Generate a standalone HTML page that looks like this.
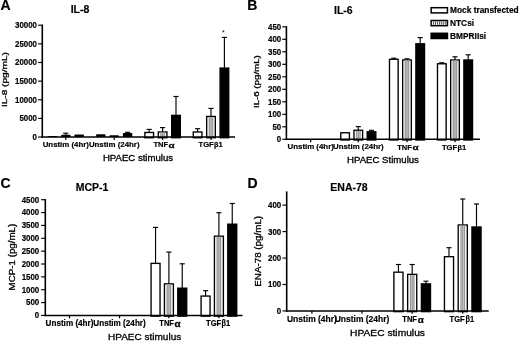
<!DOCTYPE html>
<html><head><meta charset="utf-8"><title>Figure</title>
<style>html,body{margin:0;padding:0;background:#fff;}svg{display:block;will-change:transform;}text{font-family:'Liberation Sans', sans-serif;fill:#000;}</style>
</head><body>
<svg width="520" height="342" viewBox="0 0 520 342">
<defs><filter id="bl" x="0" y="0" width="520" height="342" filterUnits="userSpaceOnUse"><feGaussianBlur stdDeviation="0.32"/></filter></defs>
<rect width="520" height="342" fill="#fff"/>
<g filter="url(#bl)">
<text transform="translate(0.6 9.9)" font-size="14" font-weight="bold" text-anchor="start"  stroke="#000" stroke-width="0.18">A</text>
<text transform="translate(80 12.5)" font-size="10.5" font-weight="bold" text-anchor="middle"  stroke="#000" stroke-width="0.18">IL-8</text>
<rect x="47.7" y="135.9" width="9.4" height="1.15" rx="0.8" fill="#000"/>
<line x1="65.8" y1="133.2" x2="65.8" y2="135.3" stroke="#000" stroke-width="1.15"/>
<line x1="63.25" y1="133.2" x2="68.35" y2="133.2" stroke="#000" stroke-width="1.15"/>
<rect x="61.1" y="134.8" width="9.4" height="2.25" rx="0.8" fill="#000"/>
<rect x="74.5" y="134.5" width="9.4" height="2.55" rx="0.8" fill="#000"/>
<rect x="96.1" y="134.2" width="9.4" height="2.85" rx="0.8" fill="#000"/>
<rect x="109.5" y="135.2" width="9.4" height="1.85" rx="0.8" fill="#000"/>
<line x1="127.6" y1="132.3" x2="127.6" y2="133.5" stroke="#000" stroke-width="1.15"/>
<line x1="125.05" y1="132.3" x2="130.15" y2="132.3" stroke="#000" stroke-width="1.15"/>
<rect x="122.9" y="133" width="9.4" height="4.05" rx="0.8" fill="#000"/>
<line x1="149.2" y1="129.4" x2="149.2" y2="132.3" stroke="#000" stroke-width="1.15"/>
<line x1="146.65" y1="129.4" x2="151.75" y2="129.4" stroke="#000" stroke-width="1.15"/>
<rect x="144.88" y="132.48" width="8.65" height="5.25" fill="#fff" stroke="#000" stroke-width="1.35"/>
<line x1="162.6" y1="127.6" x2="162.6" y2="131.8" stroke="#000" stroke-width="1.15"/>
<line x1="160.05" y1="127.6" x2="165.15" y2="127.6" stroke="#000" stroke-width="1.15"/>
<rect x="158.28" y="131.98" width="8.65" height="5.75" fill="#fff" stroke="#000" stroke-width="1.35"/>
<rect x="160.1" y="132.65" width="5" height="4.4" fill="#cfcfcf"/>
<rect x="160.45" y="132.65" width="0.9" height="4.4" fill="#8e8e8e"/>
<rect x="162.15" y="132.65" width="0.9" height="4.4" fill="#8e8e8e"/>
<rect x="163.85" y="132.65" width="0.9" height="4.4" fill="#8e8e8e"/>
<line x1="176" y1="96.5" x2="176" y2="115.2" stroke="#000" stroke-width="1.15"/>
<line x1="173.45" y1="96.5" x2="178.55" y2="96.5" stroke="#000" stroke-width="1.15"/>
<rect x="171.68" y="115.38" width="8.65" height="22.35" fill="#000" stroke="#000" stroke-width="1.35"/>
<line x1="197.6" y1="128.7" x2="197.6" y2="131.8" stroke="#000" stroke-width="1.15"/>
<line x1="195.05" y1="128.7" x2="200.15" y2="128.7" stroke="#000" stroke-width="1.15"/>
<rect x="193.28" y="131.98" width="8.65" height="5.75" fill="#fff" stroke="#000" stroke-width="1.35"/>
<line x1="211" y1="108.4" x2="211" y2="116.3" stroke="#000" stroke-width="1.15"/>
<line x1="208.45" y1="108.4" x2="213.55" y2="108.4" stroke="#000" stroke-width="1.15"/>
<rect x="206.68" y="116.47" width="8.65" height="21.25" fill="#fff" stroke="#000" stroke-width="1.35"/>
<rect x="208.5" y="117.15" width="5" height="19.9" fill="#cfcfcf"/>
<rect x="208.85" y="117.15" width="0.9" height="19.9" fill="#8e8e8e"/>
<rect x="210.55" y="117.15" width="0.9" height="19.9" fill="#8e8e8e"/>
<rect x="212.25" y="117.15" width="0.9" height="19.9" fill="#8e8e8e"/>
<line x1="224.4" y1="37.4" x2="224.4" y2="67.9" stroke="#000" stroke-width="1.15"/>
<line x1="221.85" y1="37.4" x2="226.95" y2="37.4" stroke="#000" stroke-width="1.15"/>
<rect x="220.08" y="68.08" width="8.65" height="69.65" fill="#000" stroke="#000" stroke-width="1.35"/>
<line x1="42.3" y1="24.6" x2="42.3" y2="137.8" stroke="#000" stroke-width="1.6"/>
<line x1="41.5" y1="137.05" x2="235" y2="137.05" stroke="#000" stroke-width="1.4"/>
<line x1="38.1" y1="137.05" x2="42.3" y2="137.05" stroke="#000" stroke-width="1.15"/>
<text transform="translate(37 139.95) scale(0.93 1)" font-size="8.5" font-weight="bold" text-anchor="end"  stroke="#000" stroke-width="0.18">0</text>
<line x1="38.1" y1="118.41" x2="42.3" y2="118.41" stroke="#000" stroke-width="1.15"/>
<text transform="translate(37 121.31) scale(0.93 1)" font-size="8.5" font-weight="bold" text-anchor="end"  stroke="#000" stroke-width="0.18">5000</text>
<line x1="38.1" y1="99.77" x2="42.3" y2="99.77" stroke="#000" stroke-width="1.15"/>
<text transform="translate(37 102.67) scale(0.93 1)" font-size="8.5" font-weight="bold" text-anchor="end"  stroke="#000" stroke-width="0.18">10000</text>
<line x1="38.1" y1="81.12" x2="42.3" y2="81.12" stroke="#000" stroke-width="1.15"/>
<text transform="translate(37 84.03) scale(0.93 1)" font-size="8.5" font-weight="bold" text-anchor="end"  stroke="#000" stroke-width="0.18">15000</text>
<line x1="38.1" y1="62.48" x2="42.3" y2="62.48" stroke="#000" stroke-width="1.15"/>
<text transform="translate(37 65.38) scale(0.93 1)" font-size="8.5" font-weight="bold" text-anchor="end"  stroke="#000" stroke-width="0.18">20000</text>
<line x1="38.1" y1="43.84" x2="42.3" y2="43.84" stroke="#000" stroke-width="1.15"/>
<text transform="translate(37 46.74) scale(0.93 1)" font-size="8.5" font-weight="bold" text-anchor="end"  stroke="#000" stroke-width="0.18">25000</text>
<line x1="38.1" y1="25.2" x2="42.3" y2="25.2" stroke="#000" stroke-width="1.15"/>
<text transform="translate(37 28.1) scale(0.93 1)" font-size="8.5" font-weight="bold" text-anchor="end"  stroke="#000" stroke-width="0.18">30000</text>
<text transform="translate(7.3 79.6) rotate(-90) scale(1.33 1)" font-size="7.6" font-weight="normal" text-anchor="middle" stroke="#000" stroke-width="0.3">IL-8 (pg/mL)</text>
<line x1="65.8" y1="137.05" x2="65.8" y2="139.95" stroke="#000" stroke-width="1.2"/>
<text transform="translate(65.8 147.3) scale(1.035 1)" font-size="7.6" font-weight="bold" text-anchor="middle"  stroke="#000" stroke-width="0.18">Unstim (4hr)</text>
<line x1="114.2" y1="137.05" x2="114.2" y2="139.95" stroke="#000" stroke-width="1.2"/>
<text transform="translate(114.2 147.3) scale(1.035 1)" font-size="7.6" font-weight="bold" text-anchor="middle"  stroke="#000" stroke-width="0.18">Unstim (24hr)</text>
<line x1="162.6" y1="137.05" x2="162.6" y2="139.95" stroke="#000" stroke-width="1.2"/>
<text transform="translate(153.4 147.3) scale(0.99 1)" font-size="7.6" font-weight="bold" text-anchor="start"  stroke="#000" stroke-width="0.18">TNF</text>
<text transform="translate(168.6 147.9) scale(1.3 1)" font-size="7.6" font-weight="bold" text-anchor="start" stroke="#000" stroke-width="0.25">&#945;</text>
<line x1="211" y1="137.05" x2="211" y2="139.95" stroke="#000" stroke-width="1.2"/>
<text transform="translate(198.5 147.3)" font-size="7.6" font-weight="bold" text-anchor="start"  stroke="#000" stroke-width="0.18">TGF</text>
<text transform="translate(214.1 147.3) scale(0.92 1)" font-size="7.8999999999999995" font-weight="bold" text-anchor="start" stroke="#000" stroke-width="0.2">&#946;</text>
<text transform="translate(218.6 147.3)" font-size="7.6" font-weight="bold" text-anchor="start"  stroke="#000" stroke-width="0.18">1</text>
<text transform="translate(138 160.6) scale(1.045 1)" font-size="9.2" font-weight="normal" text-anchor="middle" stroke="#000" stroke-width="0.32">HPAEC stimulus</text>
<text transform="translate(223.4 35.2)" font-size="7" font-weight="normal" text-anchor="middle" >*</text>
<text transform="translate(247.3 10.3)" font-size="14" font-weight="bold" text-anchor="start"  stroke="#000" stroke-width="0.18">B</text>
<text transform="translate(343.3 13.7)" font-size="10.5" font-weight="bold" text-anchor="middle"  stroke="#000" stroke-width="0.18">IL-6</text>
<rect x="340.78" y="132.78" width="8.65" height="7.2" fill="#fff" stroke="#000" stroke-width="1.35"/>
<line x1="358.3" y1="126.6" x2="358.3" y2="130.1" stroke="#000" stroke-width="1.15"/>
<line x1="355.75" y1="126.6" x2="360.85" y2="126.6" stroke="#000" stroke-width="1.15"/>
<rect x="353.98" y="130.28" width="8.65" height="9.7" fill="#fff" stroke="#000" stroke-width="1.35"/>
<rect x="355.8" y="130.95" width="5" height="8.35" fill="#cfcfcf"/>
<rect x="356.15" y="130.95" width="0.9" height="8.35" fill="#8e8e8e"/>
<rect x="357.85" y="130.95" width="0.9" height="8.35" fill="#8e8e8e"/>
<rect x="359.55" y="130.95" width="0.9" height="8.35" fill="#8e8e8e"/>
<line x1="371.5" y1="130.3" x2="371.5" y2="131.6" stroke="#000" stroke-width="1.15"/>
<line x1="368.95" y1="130.3" x2="374.05" y2="130.3" stroke="#000" stroke-width="1.15"/>
<rect x="367.18" y="131.78" width="8.65" height="8.2" fill="#000" stroke="#000" stroke-width="1.35"/>
<line x1="393.8" y1="58.2" x2="393.8" y2="59.1" stroke="#000" stroke-width="1.15"/>
<line x1="391.25" y1="58.2" x2="396.35" y2="58.2" stroke="#000" stroke-width="1.15"/>
<rect x="389.48" y="59.27" width="8.65" height="80.7" fill="#fff" stroke="#000" stroke-width="1.35"/>
<line x1="407" y1="58.8" x2="407" y2="59.8" stroke="#000" stroke-width="1.15"/>
<line x1="404.45" y1="58.8" x2="409.55" y2="58.8" stroke="#000" stroke-width="1.15"/>
<rect x="402.68" y="59.97" width="8.65" height="80" fill="#fff" stroke="#000" stroke-width="1.35"/>
<rect x="404.5" y="60.65" width="5" height="78.65" fill="#cfcfcf"/>
<rect x="404.85" y="60.65" width="0.9" height="78.65" fill="#8e8e8e"/>
<rect x="406.55" y="60.65" width="0.9" height="78.65" fill="#8e8e8e"/>
<rect x="408.25" y="60.65" width="0.9" height="78.65" fill="#8e8e8e"/>
<line x1="420.2" y1="37.6" x2="420.2" y2="43.6" stroke="#000" stroke-width="1.15"/>
<line x1="417.65" y1="37.6" x2="422.75" y2="37.6" stroke="#000" stroke-width="1.15"/>
<rect x="415.88" y="43.77" width="8.65" height="96.2" fill="#000" stroke="#000" stroke-width="1.35"/>
<line x1="441.8" y1="62.8" x2="441.8" y2="63.6" stroke="#000" stroke-width="1.15"/>
<line x1="439.25" y1="62.8" x2="444.35" y2="62.8" stroke="#000" stroke-width="1.15"/>
<rect x="437.48" y="63.77" width="8.65" height="76.2" fill="#fff" stroke="#000" stroke-width="1.35"/>
<line x1="455" y1="56.8" x2="455" y2="59.8" stroke="#000" stroke-width="1.15"/>
<line x1="452.45" y1="56.8" x2="457.55" y2="56.8" stroke="#000" stroke-width="1.15"/>
<rect x="450.68" y="59.97" width="8.65" height="80" fill="#fff" stroke="#000" stroke-width="1.35"/>
<rect x="452.5" y="60.65" width="5" height="78.65" fill="#cfcfcf"/>
<rect x="452.85" y="60.65" width="0.9" height="78.65" fill="#8e8e8e"/>
<rect x="454.55" y="60.65" width="0.9" height="78.65" fill="#8e8e8e"/>
<rect x="456.25" y="60.65" width="0.9" height="78.65" fill="#8e8e8e"/>
<line x1="468.2" y1="54.8" x2="468.2" y2="59.8" stroke="#000" stroke-width="1.15"/>
<line x1="465.65" y1="54.8" x2="470.75" y2="54.8" stroke="#000" stroke-width="1.15"/>
<rect x="463.88" y="59.97" width="8.65" height="80" fill="#000" stroke="#000" stroke-width="1.35"/>
<line x1="286.4" y1="26.2" x2="286.4" y2="140.05" stroke="#000" stroke-width="1.6"/>
<line x1="285.6" y1="139.3" x2="480" y2="139.3" stroke="#000" stroke-width="1.4"/>
<line x1="282.2" y1="139.3" x2="286.4" y2="139.3" stroke="#000" stroke-width="1.15"/>
<text transform="translate(281.2 142.2) scale(0.93 1)" font-size="8.5" font-weight="bold" text-anchor="end"  stroke="#000" stroke-width="0.18">0</text>
<line x1="282.2" y1="126.8" x2="286.4" y2="126.8" stroke="#000" stroke-width="1.15"/>
<text transform="translate(281.2 129.7) scale(0.93 1)" font-size="8.5" font-weight="bold" text-anchor="end"  stroke="#000" stroke-width="0.18">50</text>
<line x1="282.2" y1="114.3" x2="286.4" y2="114.3" stroke="#000" stroke-width="1.15"/>
<text transform="translate(281.2 117.2) scale(0.93 1)" font-size="8.5" font-weight="bold" text-anchor="end"  stroke="#000" stroke-width="0.18">100</text>
<line x1="282.2" y1="101.8" x2="286.4" y2="101.8" stroke="#000" stroke-width="1.15"/>
<text transform="translate(281.2 104.7) scale(0.93 1)" font-size="8.5" font-weight="bold" text-anchor="end"  stroke="#000" stroke-width="0.18">150</text>
<line x1="282.2" y1="89.3" x2="286.4" y2="89.3" stroke="#000" stroke-width="1.15"/>
<text transform="translate(281.2 92.2) scale(0.93 1)" font-size="8.5" font-weight="bold" text-anchor="end"  stroke="#000" stroke-width="0.18">200</text>
<line x1="282.2" y1="76.8" x2="286.4" y2="76.8" stroke="#000" stroke-width="1.15"/>
<text transform="translate(281.2 79.7) scale(0.93 1)" font-size="8.5" font-weight="bold" text-anchor="end"  stroke="#000" stroke-width="0.18">250</text>
<line x1="282.2" y1="64.3" x2="286.4" y2="64.3" stroke="#000" stroke-width="1.15"/>
<text transform="translate(281.2 67.2) scale(0.93 1)" font-size="8.5" font-weight="bold" text-anchor="end"  stroke="#000" stroke-width="0.18">300</text>
<line x1="282.2" y1="51.8" x2="286.4" y2="51.8" stroke="#000" stroke-width="1.15"/>
<text transform="translate(281.2 54.7) scale(0.93 1)" font-size="8.5" font-weight="bold" text-anchor="end"  stroke="#000" stroke-width="0.18">350</text>
<line x1="282.2" y1="39.3" x2="286.4" y2="39.3" stroke="#000" stroke-width="1.15"/>
<text transform="translate(281.2 42.2) scale(0.93 1)" font-size="8.5" font-weight="bold" text-anchor="end"  stroke="#000" stroke-width="0.18">400</text>
<line x1="282.2" y1="26.8" x2="286.4" y2="26.8" stroke="#000" stroke-width="1.15"/>
<text transform="translate(281.2 29.7) scale(0.93 1)" font-size="8.5" font-weight="bold" text-anchor="end"  stroke="#000" stroke-width="0.18">450</text>
<text transform="translate(259.2 81.6) rotate(-90) scale(1.28 1)" font-size="7.6" font-weight="normal" text-anchor="middle" stroke="#000" stroke-width="0.3">IL-6 (pg/mL)</text>
<line x1="310.7" y1="139.3" x2="310.7" y2="142.2" stroke="#000" stroke-width="1.2"/>
<text transform="translate(310.7 149.1) scale(1.035 1)" font-size="7.6" font-weight="bold" text-anchor="middle"  stroke="#000" stroke-width="0.18">Unstim (4hr)</text>
<line x1="358.3" y1="139.3" x2="358.3" y2="142.2" stroke="#000" stroke-width="1.2"/>
<text transform="translate(358.3 149.1) scale(1.035 1)" font-size="7.6" font-weight="bold" text-anchor="middle"  stroke="#000" stroke-width="0.18">Unstim (24hr)</text>
<line x1="407" y1="139.3" x2="407" y2="142.2" stroke="#000" stroke-width="1.2"/>
<text transform="translate(397.2 149.6) scale(0.99 1)" font-size="7.6" font-weight="bold" text-anchor="start"  stroke="#000" stroke-width="0.18">TNF</text>
<text transform="translate(412.4 150.2) scale(1.3 1)" font-size="7.6" font-weight="bold" text-anchor="start" stroke="#000" stroke-width="0.25">&#945;</text>
<line x1="455" y1="139.3" x2="455" y2="142.2" stroke="#000" stroke-width="1.2"/>
<text transform="translate(441.9 149.6)" font-size="7.6" font-weight="bold" text-anchor="start"  stroke="#000" stroke-width="0.18">TGF</text>
<text transform="translate(457.5 149.6) scale(0.92 1)" font-size="7.8999999999999995" font-weight="bold" text-anchor="start" stroke="#000" stroke-width="0.2">&#946;</text>
<text transform="translate(462 149.6)" font-size="7.6" font-weight="bold" text-anchor="start"  stroke="#000" stroke-width="0.18">1</text>
<text transform="translate(383 163.1) scale(1.045 1)" font-size="9.2" font-weight="normal" text-anchor="middle" stroke="#000" stroke-width="0.32">HPAEC Stimulus</text>
<rect x="431.15" y="7.7" width="16.3" height="5.2" fill="#fff" stroke="#000" stroke-width="1.5"/>
<text transform="translate(450 13.2)" font-size="8.35" font-weight="bold" text-anchor="start"  stroke="#000" stroke-width="0.18">Mock transfected</text>
<rect x="431.15" y="20.5" width="16.3" height="5.2" fill="#fff" stroke="#000" stroke-width="1.5"/>
<rect x="433" y="21.45" width="1.0" height="3.3" fill="#444"/>
<rect x="435.05" y="21.45" width="1.0" height="3.3" fill="#444"/>
<rect x="437.1" y="21.45" width="1.0" height="3.3" fill="#444"/>
<rect x="439.15" y="21.45" width="1.0" height="3.3" fill="#444"/>
<rect x="441.2" y="21.45" width="1.0" height="3.3" fill="#444"/>
<rect x="443.25" y="21.45" width="1.0" height="3.3" fill="#444"/>
<rect x="445.3" y="21.45" width="1.0" height="3.3" fill="#444"/>
<text transform="translate(450 26)" font-size="8.35" font-weight="bold" text-anchor="start"  stroke="#000" stroke-width="0.18">NTCsi</text>
<rect x="431.15" y="33.3" width="16.3" height="5.2" fill="#000" stroke="#000" stroke-width="1.5"/>
<text transform="translate(450 38.9)" font-size="8.35" font-weight="bold" text-anchor="start"  stroke="#000" stroke-width="0.18">BMPRIIsi</text>
<text transform="translate(0.5 188)" font-size="14" font-weight="bold" text-anchor="start"  stroke="#000" stroke-width="0.18">C</text>
<text transform="translate(92 190.5)" font-size="10.5" font-weight="bold" text-anchor="middle"  stroke="#000" stroke-width="0.18">MCP-1</text>
<line x1="155.55" y1="227.4" x2="155.55" y2="263.2" stroke="#000" stroke-width="1.15"/>
<line x1="153" y1="227.4" x2="158.1" y2="227.4" stroke="#000" stroke-width="1.15"/>
<rect x="151.08" y="263.38" width="8.95" height="52.75" fill="#fff" stroke="#000" stroke-width="1.35"/>
<line x1="168.9" y1="252.1" x2="168.9" y2="283.7" stroke="#000" stroke-width="1.15"/>
<line x1="166.35" y1="252.1" x2="171.45" y2="252.1" stroke="#000" stroke-width="1.15"/>
<rect x="164.43" y="283.88" width="8.95" height="32.25" fill="#fff" stroke="#000" stroke-width="1.35"/>
<rect x="166.4" y="284.55" width="5" height="30.9" fill="#cfcfcf"/>
<rect x="166.75" y="284.55" width="0.9" height="30.9" fill="#8e8e8e"/>
<rect x="168.45" y="284.55" width="0.9" height="30.9" fill="#8e8e8e"/>
<rect x="170.15" y="284.55" width="0.9" height="30.9" fill="#8e8e8e"/>
<line x1="182.25" y1="263.8" x2="182.25" y2="288" stroke="#000" stroke-width="1.15"/>
<line x1="179.7" y1="263.8" x2="184.8" y2="263.8" stroke="#000" stroke-width="1.15"/>
<rect x="177.78" y="288.18" width="8.95" height="27.95" fill="#000" stroke="#000" stroke-width="1.35"/>
<line x1="205.55" y1="290.7" x2="205.55" y2="295.9" stroke="#000" stroke-width="1.15"/>
<line x1="203" y1="290.7" x2="208.1" y2="290.7" stroke="#000" stroke-width="1.15"/>
<rect x="201.08" y="296.07" width="8.95" height="20.05" fill="#fff" stroke="#000" stroke-width="1.35"/>
<line x1="218.9" y1="212.7" x2="218.9" y2="236" stroke="#000" stroke-width="1.15"/>
<line x1="216.35" y1="212.7" x2="221.45" y2="212.7" stroke="#000" stroke-width="1.15"/>
<rect x="214.43" y="236.18" width="8.95" height="79.95" fill="#fff" stroke="#000" stroke-width="1.35"/>
<rect x="216.4" y="236.85" width="5" height="78.6" fill="#cfcfcf"/>
<rect x="216.75" y="236.85" width="0.9" height="78.6" fill="#8e8e8e"/>
<rect x="218.45" y="236.85" width="0.9" height="78.6" fill="#8e8e8e"/>
<rect x="220.15" y="236.85" width="0.9" height="78.6" fill="#8e8e8e"/>
<line x1="232.25" y1="203.5" x2="232.25" y2="224" stroke="#000" stroke-width="1.15"/>
<line x1="229.7" y1="203.5" x2="234.8" y2="203.5" stroke="#000" stroke-width="1.15"/>
<rect x="227.78" y="224.18" width="8.95" height="91.95" fill="#000" stroke="#000" stroke-width="1.35"/>
<line x1="45.3" y1="199.1" x2="45.3" y2="316.2" stroke="#000" stroke-width="1.6"/>
<line x1="44.5" y1="315.45" x2="242.5" y2="315.45" stroke="#000" stroke-width="1.4"/>
<line x1="41.1" y1="315.45" x2="45.3" y2="315.45" stroke="#000" stroke-width="1.15"/>
<text transform="translate(39.2 318.35) scale(0.93 1)" font-size="8.5" font-weight="bold" text-anchor="end"  stroke="#000" stroke-width="0.18">0</text>
<line x1="41.1" y1="302.59" x2="45.3" y2="302.59" stroke="#000" stroke-width="1.15"/>
<text transform="translate(39.2 305.49) scale(0.93 1)" font-size="8.5" font-weight="bold" text-anchor="end"  stroke="#000" stroke-width="0.18">500</text>
<line x1="41.1" y1="289.73" x2="45.3" y2="289.73" stroke="#000" stroke-width="1.15"/>
<text transform="translate(39.2 292.63) scale(0.93 1)" font-size="8.5" font-weight="bold" text-anchor="end"  stroke="#000" stroke-width="0.18">1000</text>
<line x1="41.1" y1="276.87" x2="45.3" y2="276.87" stroke="#000" stroke-width="1.15"/>
<text transform="translate(39.2 279.77) scale(0.93 1)" font-size="8.5" font-weight="bold" text-anchor="end"  stroke="#000" stroke-width="0.18">1500</text>
<line x1="41.1" y1="264.01" x2="45.3" y2="264.01" stroke="#000" stroke-width="1.15"/>
<text transform="translate(39.2 266.91) scale(0.93 1)" font-size="8.5" font-weight="bold" text-anchor="end"  stroke="#000" stroke-width="0.18">2000</text>
<line x1="41.1" y1="251.15" x2="45.3" y2="251.15" stroke="#000" stroke-width="1.15"/>
<text transform="translate(39.2 254.05) scale(0.93 1)" font-size="8.5" font-weight="bold" text-anchor="end"  stroke="#000" stroke-width="0.18">2500</text>
<line x1="41.1" y1="238.29" x2="45.3" y2="238.29" stroke="#000" stroke-width="1.15"/>
<text transform="translate(39.2 241.19) scale(0.93 1)" font-size="8.5" font-weight="bold" text-anchor="end"  stroke="#000" stroke-width="0.18">3000</text>
<line x1="41.1" y1="225.43" x2="45.3" y2="225.43" stroke="#000" stroke-width="1.15"/>
<text transform="translate(39.2 228.33) scale(0.93 1)" font-size="8.5" font-weight="bold" text-anchor="end"  stroke="#000" stroke-width="0.18">3500</text>
<line x1="41.1" y1="212.57" x2="45.3" y2="212.57" stroke="#000" stroke-width="1.15"/>
<text transform="translate(39.2 215.47) scale(0.93 1)" font-size="8.5" font-weight="bold" text-anchor="end"  stroke="#000" stroke-width="0.18">4000</text>
<line x1="41.1" y1="199.71" x2="45.3" y2="199.71" stroke="#000" stroke-width="1.15"/>
<text transform="translate(39.2 202.61) scale(0.93 1)" font-size="8.5" font-weight="bold" text-anchor="end"  stroke="#000" stroke-width="0.18">4500</text>
<text transform="translate(15 257.1) rotate(-90) scale(1.19 1)" font-size="8.2" font-weight="normal" text-anchor="middle" stroke="#000" stroke-width="0.3">MCP-1 (pg/mL)</text>
<line x1="69.5" y1="315.45" x2="69.5" y2="318.35" stroke="#000" stroke-width="1.2"/>
<text transform="translate(69.5 326.1) scale(0.995 1)" font-size="8.2" font-weight="bold" text-anchor="middle"  stroke="#000" stroke-width="0.18">Unstim (4hr)</text>
<line x1="119.5" y1="315.45" x2="119.5" y2="318.35" stroke="#000" stroke-width="1.2"/>
<text transform="translate(119.5 326.1) scale(0.995 1)" font-size="8.2" font-weight="bold" text-anchor="middle"  stroke="#000" stroke-width="0.18">Unstim (24hr)</text>
<line x1="168.9" y1="315.45" x2="168.9" y2="318.35" stroke="#000" stroke-width="1.2"/>
<text transform="translate(159.3 326.1) scale(0.9175609756097561 1)" font-size="8.2" font-weight="bold" text-anchor="start"  stroke="#000" stroke-width="0.18">TNF</text>
<text transform="translate(174.5 326.7) scale(1.204878048780488 1)" font-size="8.2" font-weight="bold" text-anchor="start" stroke="#000" stroke-width="0.25">&#945;</text>
<line x1="218.9" y1="315.45" x2="218.9" y2="318.35" stroke="#000" stroke-width="1.2"/>
<text transform="translate(206 326.1) scale(0.926829268292683 1)" font-size="8.2" font-weight="bold" text-anchor="start"  stroke="#000" stroke-width="0.18">TGF</text>
<text transform="translate(221.6 326.1) scale(0.8526829268292684 1)" font-size="8.5" font-weight="bold" text-anchor="start" stroke="#000" stroke-width="0.2">&#946;</text>
<text transform="translate(226.1 326.1) scale(0.926829268292683 1)" font-size="8.2" font-weight="bold" text-anchor="start"  stroke="#000" stroke-width="0.18">1</text>
<text transform="translate(144.6 340) scale(1.045 1)" font-size="9.6" font-weight="normal" text-anchor="middle" stroke="#000" stroke-width="0.32">HPAEC stimulus</text>
<text transform="translate(247.5 188)" font-size="14" font-weight="bold" text-anchor="start"  stroke="#000" stroke-width="0.18">D</text>
<text transform="translate(349 190.5)" font-size="10.5" font-weight="bold" text-anchor="middle"  stroke="#000" stroke-width="0.18">ENA-78</text>
<line x1="398.45" y1="264.5" x2="398.45" y2="272" stroke="#000" stroke-width="1.15"/>
<line x1="395.9" y1="264.5" x2="401" y2="264.5" stroke="#000" stroke-width="1.15"/>
<rect x="393.9" y="272.18" width="9.1" height="39.45" fill="#fff" stroke="#000" stroke-width="1.35"/>
<line x1="412.2" y1="264.5" x2="412.2" y2="274.2" stroke="#000" stroke-width="1.15"/>
<line x1="409.65" y1="264.5" x2="414.75" y2="264.5" stroke="#000" stroke-width="1.15"/>
<rect x="407.65" y="274.38" width="9.1" height="37.25" fill="#fff" stroke="#000" stroke-width="1.35"/>
<rect x="409.7" y="275.05" width="5" height="35.9" fill="#cfcfcf"/>
<rect x="410.05" y="275.05" width="0.9" height="35.9" fill="#8e8e8e"/>
<rect x="411.75" y="275.05" width="0.9" height="35.9" fill="#8e8e8e"/>
<rect x="413.45" y="275.05" width="0.9" height="35.9" fill="#8e8e8e"/>
<line x1="425.95" y1="281.2" x2="425.95" y2="283.7" stroke="#000" stroke-width="1.15"/>
<line x1="423.4" y1="281.2" x2="428.5" y2="281.2" stroke="#000" stroke-width="1.15"/>
<rect x="421.4" y="283.88" width="9.1" height="27.75" fill="#000" stroke="#000" stroke-width="1.35"/>
<line x1="449" y1="247.7" x2="449" y2="256.5" stroke="#000" stroke-width="1.15"/>
<line x1="446.45" y1="247.7" x2="451.55" y2="247.7" stroke="#000" stroke-width="1.15"/>
<rect x="444.45" y="256.68" width="9.1" height="54.95" fill="#fff" stroke="#000" stroke-width="1.35"/>
<line x1="462.75" y1="199" x2="462.75" y2="224.8" stroke="#000" stroke-width="1.15"/>
<line x1="460.2" y1="199" x2="465.3" y2="199" stroke="#000" stroke-width="1.15"/>
<rect x="458.2" y="224.98" width="9.1" height="86.65" fill="#fff" stroke="#000" stroke-width="1.35"/>
<rect x="460.25" y="225.65" width="5" height="85.3" fill="#cfcfcf"/>
<rect x="460.6" y="225.65" width="0.9" height="85.3" fill="#8e8e8e"/>
<rect x="462.3" y="225.65" width="0.9" height="85.3" fill="#8e8e8e"/>
<rect x="464" y="225.65" width="0.9" height="85.3" fill="#8e8e8e"/>
<line x1="476.5" y1="204" x2="476.5" y2="226.8" stroke="#000" stroke-width="1.15"/>
<line x1="473.95" y1="204" x2="479.05" y2="204" stroke="#000" stroke-width="1.15"/>
<rect x="471.95" y="226.98" width="9.1" height="84.65" fill="#000" stroke="#000" stroke-width="1.35"/>
<line x1="286.7" y1="191.4" x2="286.7" y2="311.7" stroke="#000" stroke-width="1.6"/>
<line x1="285.9" y1="310.95" x2="488.7" y2="310.95" stroke="#000" stroke-width="1.4"/>
<line x1="282.5" y1="310.95" x2="286.7" y2="310.95" stroke="#000" stroke-width="1.15"/>
<text transform="translate(281.2 313.85) scale(0.93 1)" font-size="8.5" font-weight="bold" text-anchor="end"  stroke="#000" stroke-width="0.18">0</text>
<line x1="282.5" y1="284.5" x2="286.7" y2="284.5" stroke="#000" stroke-width="1.15"/>
<text transform="translate(281.2 287.4) scale(0.93 1)" font-size="8.5" font-weight="bold" text-anchor="end"  stroke="#000" stroke-width="0.18">100</text>
<line x1="282.5" y1="258.05" x2="286.7" y2="258.05" stroke="#000" stroke-width="1.15"/>
<text transform="translate(281.2 260.95) scale(0.93 1)" font-size="8.5" font-weight="bold" text-anchor="end"  stroke="#000" stroke-width="0.18">200</text>
<line x1="282.5" y1="231.6" x2="286.7" y2="231.6" stroke="#000" stroke-width="1.15"/>
<text transform="translate(281.2 234.5) scale(0.93 1)" font-size="8.5" font-weight="bold" text-anchor="end"  stroke="#000" stroke-width="0.18">300</text>
<line x1="282.5" y1="205.15" x2="286.7" y2="205.15" stroke="#000" stroke-width="1.15"/>
<text transform="translate(281.2 208.05) scale(0.93 1)" font-size="8.5" font-weight="bold" text-anchor="end"  stroke="#000" stroke-width="0.18">400</text>
<text transform="translate(260.7 251.3) rotate(-90) scale(1.17 1)" font-size="8.4" font-weight="normal" text-anchor="middle" stroke="#000" stroke-width="0.3">ENA-78 (pg/mL)</text>
<line x1="311.9" y1="310.95" x2="311.9" y2="313.85" stroke="#000" stroke-width="1.2"/>
<text transform="translate(311.9 321.9) scale(1.022 1)" font-size="8.3" font-weight="bold" text-anchor="middle"  stroke="#000" stroke-width="0.18">Unstim (4hr)</text>
<line x1="362" y1="310.95" x2="362" y2="313.85" stroke="#000" stroke-width="1.2"/>
<text transform="translate(362 321.9) scale(1.022 1)" font-size="8.3" font-weight="bold" text-anchor="middle"  stroke="#000" stroke-width="0.18">Unstim (24hr)</text>
<line x1="412.2" y1="310.95" x2="412.2" y2="313.85" stroke="#000" stroke-width="1.2"/>
<text transform="translate(402.32 321.9) scale(0.9065060240963854 1)" font-size="8.3" font-weight="bold" text-anchor="start"  stroke="#000" stroke-width="0.18">TNF</text>
<text transform="translate(417.82 322.5) scale(1.1903614457831324 1)" font-size="8.3" font-weight="bold" text-anchor="start" stroke="#000" stroke-width="0.25">&#945;</text>
<line x1="462.75" y1="310.95" x2="462.75" y2="313.85" stroke="#000" stroke-width="1.2"/>
<text transform="translate(449.5 321.9) scale(0.9156626506024095 1)" font-size="8.3" font-weight="bold" text-anchor="start"  stroke="#000" stroke-width="0.18">TGF</text>
<text transform="translate(465.41 321.9) scale(0.8424096385542168 1)" font-size="8.600000000000001" font-weight="bold" text-anchor="start" stroke="#000" stroke-width="0.2">&#946;</text>
<text transform="translate(470 321.9) scale(0.9156626506024095 1)" font-size="8.3" font-weight="bold" text-anchor="start"  stroke="#000" stroke-width="0.18">1</text>
<text transform="translate(387.5 336.3) scale(1.045 1)" font-size="9.8" font-weight="normal" text-anchor="middle" stroke="#000" stroke-width="0.32">HPAEC stimulus</text>
</g></svg></body></html>
